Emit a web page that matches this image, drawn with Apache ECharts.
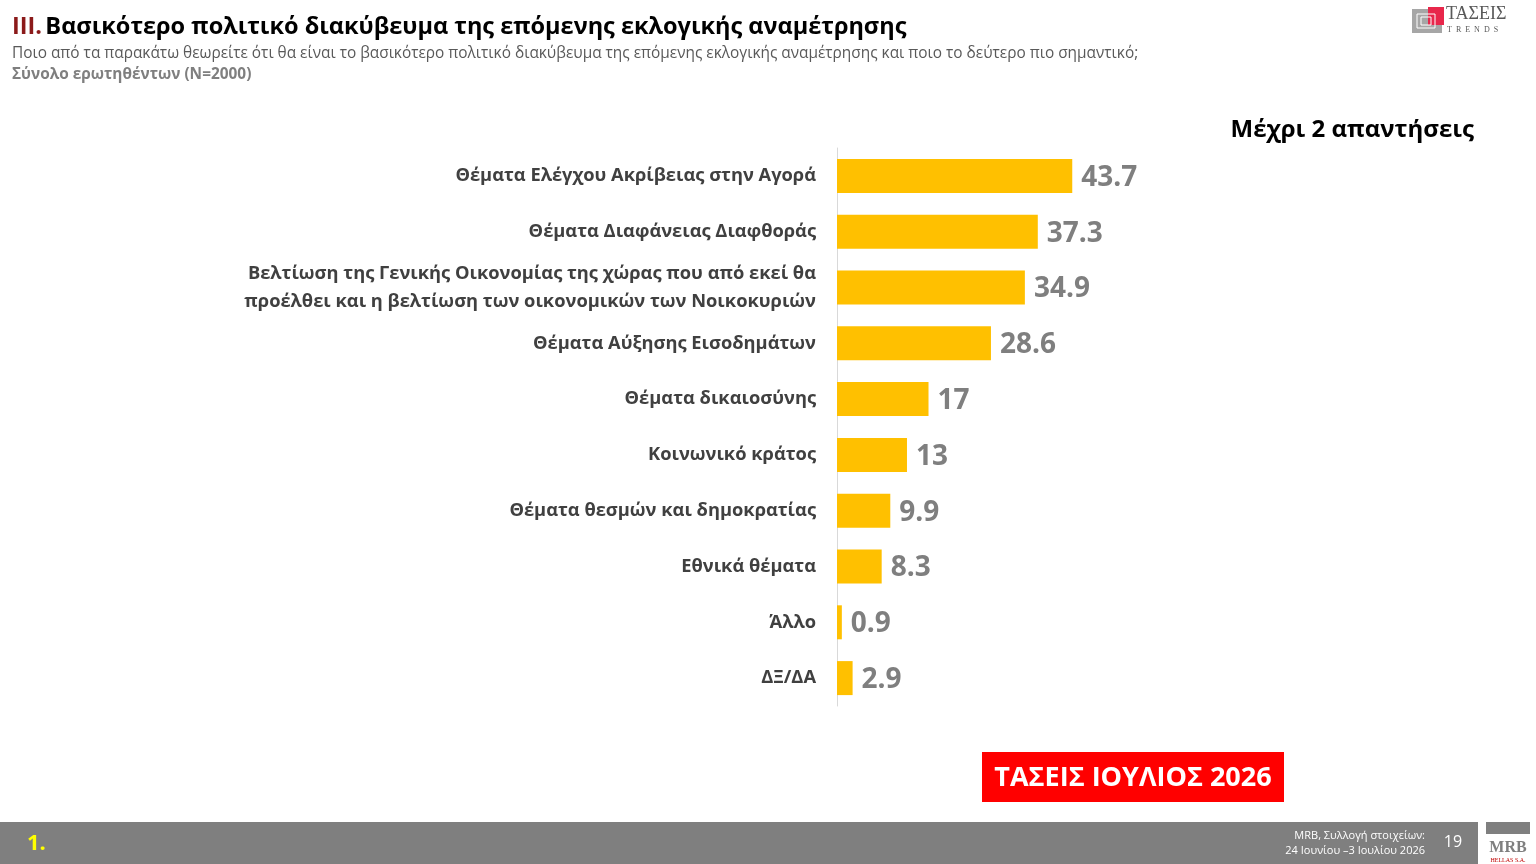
<!DOCTYPE html>
<html>
<head>
<meta charset="utf-8">
<script src="https://cdn.jsdelivr.net/npm/echarts@6/dist/echarts.min.js"></script>
<style>
  html, body { margin: 0; padding: 0; background: #fff; }
  #chart { width: 1536px; height: 864px; }
</style>
</head>
<body>
<div id="chart"></div>
<script>
const FONT = '"Open Sans", "Noto Sans", sans-serif';

const categories = [
    'Θέματα Ελέγχου Ακρίβειας στην Αγορά',
    'Θέματα Διαφάνειας Διαφθοράς',
    'Βελτίωση της Γενικής Οικονομίας της χώρας που από εκεί θα\nπροέλθει και η βελτίωση των οικονομικών των Νοικοκυριών',
    'Θέματα Αύξησης Εισοδημάτων',
    'Θέματα δικαιοσύνης',
    'Κοινωνικό κράτος',
    'Θέματα θεσμών και δημοκρατίας',
    'Εθνικά θέματα',
    'Άλλο',
    'ΔΞ/ΔΑ'
];
const values = [43.7, 37.3, 34.9, 28.6, 17, 13, 9.9, 8.3, 0.9, 2.9];

const chart = echarts.init(document.getElementById('chart'));

chart.setOption({
    animation: false,
    backgroundColor: '#fff',
    textStyle: {fontFamily: FONT},
    grid: {left: 837, top: 148, width: 323, height: 558, containLabel: false},
    xAxis: {
        type: 'value', min: 0, max: 60,
        show: false
    },
    yAxis: {
        type: 'category',
        inverse: true,
        data: categories,
        axisLine: {show: true, lineStyle: {color: '#d9d9d9', width: 1}},
        axisTick: {show: false},
        axisLabel: {
            margin: 21,
            fontSize: 18.3,
            fontWeight: 'bold',
            color: '#404040',
            lineHeight: 28,
            fontFamily: FONT
        }
    },
    series: [{
        type: 'bar',
        data: values,
        barWidth: 34,
        itemStyle: {color: '#ffc000'},
        label: {
            show: true,
            position: 'right',
            distance: 9,
            fontSize: 28,
            fontWeight: 'bold',
            color: '#7f7f7f',
            fontFamily: FONT,
            offset: [0, 2]
        }
    }],
    graphic: [
        {
            type: 'text', left: 12, top: 15,
            style: {
                text: '{r|III.} {b|Βασικότερο πολιτικό διακύβευμα της επόμενης εκλογικής αναμέτρησης}',
                rich: {
                    r: {fontSize: 23.5, fontWeight: 'bold', fill: '#8b1a1a', fontFamily: FONT},
                    b: {fontSize: 23.5, fontWeight: 'bold', fill: '#000', fontFamily: FONT}
                }
            }
        },
        {
            type: 'text', left: 12, top: 46,
            style: {
                text: 'Ποιο από τα παρακάτω θεωρείτε ότι θα είναι το βασικότερο πολιτικό διακύβευμα της επόμενης εκλογικής αναμέτρησης και ποιο το δεύτερο πιο σημαντικό;',
                fontSize: 15.4, fill: '#595959', fontFamily: FONT
            }
        },
        {
            type: 'text', left: 12, top: 67,
            style: {
                text: 'Σύνολο ερωτηθέντων (N=2000)',
                fontSize: 15.4, fontWeight: 'bold', fill: '#7f7f7f', fontFamily: FONT
            }
        },
        {
            type: 'text', right: 62, top: 118,
            style: {
                text: 'Μέχρι 2 απαντήσεις',
                fontSize: 24, fontWeight: 'bold', fill: '#000', fontFamily: FONT
            }
        },
        // logo top right
        {type: 'rect', shape: {x: 1412, y: 9, width: 30, height: 24}, style: {fill: '#a6a6a6'}},
        {type: 'rect', shape: {x: 1428, y: 7, width: 16, height: 18}, style: {fill: '#e8274b'}},
        {type: 'rect', shape: {x: 1417, y: 14, width: 18, height: 14}, style: {fill: 'none', stroke: '#fff', lineWidth: 1}},
        {type: 'rect', shape: {x: 1421, y: 17, width: 10, height: 8}, style: {fill: 'none', stroke: '#fff', lineWidth: 1}},
        {
            type: 'text', left: 1446, top: 5,
            style: {text: 'ΤΑΣΕΙΣ', fontSize: 18, fill: '#595959', fontFamily: '"Liberation Serif", serif'}
        },
        {
            type: 'text', left: 1447, top: 26,
            style: {text: 'T  R  E  N  D  S', fontSize: 8, fill: '#595959', fontFamily: '"Liberation Serif", serif'}
        },
        // red badge
        {type: 'rect', shape: {x: 982, y: 752, width: 302, height: 50}, style: {fill: '#ff0000'}},
        {
            type: 'text', x: 1133, y: 778,
            style: {
                text: 'ΤΑΣΕΙΣ ΙΟΥΛΙΟΣ 2026', fontSize: 27, fontWeight: 'bold', fill: '#fff',
                align: 'center', verticalAlign: 'middle', fontFamily: FONT
            }
        },
        // footer
        {type: 'rect', shape: {x: 0, y: 822, width: 1478, height: 42}, style: {fill: '#7f7f7f'}},
        {
            type: 'text', left: 27, top: 833,
            style: {text: '1.', fontSize: 22, fontWeight: 'bold', fill: '#ffff00', fontFamily: FONT}
        },
        {
            type: 'text', x: 1425, y: 843,
            style: {
                text: 'MRB, Συλλογή στοιχείων:\n24 Ιουνίου –3 Ιουλίου 2026', fontSize: 11, lineHeight: 15,
                fill: '#fff', align: 'right', verticalAlign: 'middle', fontFamily: FONT
            }
        },
        {
            type: 'text', x: 1453, y: 842,
            style: {text: '19', fontSize: 16, fill: '#fff', align: 'center', verticalAlign: 'middle', fontFamily: FONT}
        },
        {type: 'rect', shape: {x: 1486, y: 822, width: 44, height: 12}, style: {fill: '#7f7f7f'}},
        {
            type: 'text', x: 1508, y: 848,
            style: {text: 'MRB', fontSize: 16, fontWeight: 'bold', fill: '#7f7f7f', align: 'center', verticalAlign: 'middle', fontFamily: '"Liberation Serif", serif'}
        },
        {
            type: 'text', x: 1508, y: 860,
            style: {text: 'HELLAS S.A.', fontSize: 6, fill: '#c00000', align: 'center', verticalAlign: 'middle', fontFamily: '"Liberation Serif", serif'}
        }
    ]
});
</script>
</body>
</html>
